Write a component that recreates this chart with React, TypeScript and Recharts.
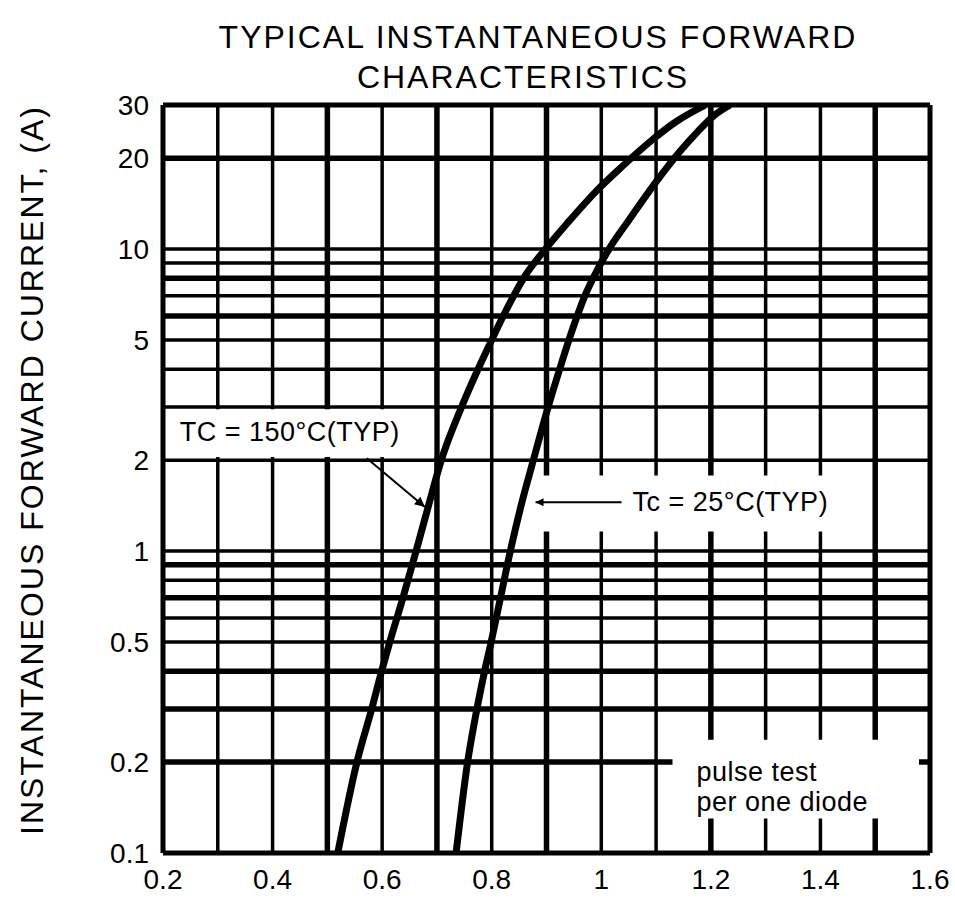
import { LineChart, Line, XAxis, YAxis, ReferenceLine, ReferenceArea } from "recharts"

// forward voltage (V) vs instantaneous current (A)
const hotVoltage = [0.519, 0.554, 0.581, 0.599, 0.614, 0.638, 0.662, 0.684, 0.708, 0.745, 0.775, 0.8, 0.821, 0.84, 0.858, 0.898, 0.94, 0.99, 1.037, 1.093, 1.135, 1.19]
const hotCurrent = [0.1, 0.2, 0.3, 0.4, 0.5, 0.7, 1, 1.4, 2, 3, 4, 5, 6, 7, 8, 10, 12.3, 15.5, 18.7, 23, 26.3, 30]

const coldVoltage = [0.735, 0.756, 0.773, 0.787, 0.799, 0.816, 0.834, 0.853, 0.876, 0.903, 0.924, 0.941, 0.956, 0.97, 0.985, 1.014, 1.048, 1.1, 1.143, 1.176, 1.207, 1.235]
const coldCurrent = [0.1, 0.2, 0.3, 0.4, 0.5, 0.7, 1, 1.4, 2, 3, 4, 5, 6, 7, 8, 10, 12.3, 16.7, 21, 24.5, 27.8, 30]

const voltTicks = [0.2, 0.4, 0.6, 0.8, 1, 1.2, 1.4, 1.6]
const currentTicks = [0.1, 0.2, 0.5, 1, 2, 5, 10, 20, 30]

const voltGrid = [0.3, 0.4, 0.5, 0.6, 0.7, 0.8, 0.9, 1, 1.1, 1.2, 1.3, 1.4, 1.5]
const currentGrid = [0.2, 0.3, 0.4, 0.5, 0.6, 0.7, 0.8, 0.9, 1, 2, 3, 4, 5, 6, 7, 8, 9, 10, 20]

const title = ["TYPICAL INSTANTANEOUS FORWARD", "CHARACTERISTICS"]
const yTitle = "INSTANTANEOUS FORWARD CURRENT, (A)"
const hotLabel = "TC = 150°C(TYP)"
const coldLabel = "Tc = 25°C(TYP)"
const noteLines = ["pulse test", "per one diode"]

const hot = hotVoltage.map((v, k) => ({ v, i: hotCurrent[k] }))
const cold = coldVoltage.map((v, k) => ({ v, i: coldCurrent[k] }))

// scanned grid has some heavier lines
const heavyVolts = [0.5, 0.7, 0.9, 1.2, 1.5]
const heavyCurrents = [20, 8, 6, 0.9, 0.7, 0.4, 0.3, 0.2]

const font = "'Liberation Sans', Arial, sans-serif"

function BoxText({ viewBox, lines, dx, dy, gap }: any) {
  const { x, y } = viewBox
  return (
    <text x={x + dx} y={y + dy} fontSize={27} fontFamily={font} fill="#000" letterSpacing={0.5}>
      {lines.map((t: string, k: number) => (
        <tspan key={k} x={x + dx} dy={k ? gap : 0}>
          {t}
        </tspan>
      ))}
    </text>
  )
}

export default function App() {
  return (
    <div style={{ position: "absolute", left: 0, top: 0, width: 955, height: 902, background: "#fff" }}>
      <svg width={955} height={902} style={{ position: "absolute", left: 0, top: 0 }}>
        <defs>
          <marker id="arrowHead" viewBox="0 0 10 10" refX="10" refY="5" markerWidth="6" markerHeight="5" orient="auto">
            <path d="M0,0 L10,5 L0,10 z" fill="#000" />
          </marker>
          <marker id="tickHead" viewBox="0 0 10 10" refX="0" refY="5" markerWidth="4" markerHeight="4" orient="auto">
            <path d="M10,0 L0,5 L10,10 z" fill="#000" />
          </marker>
        </defs>
        <g fontFamily={font} fill="#000" fontSize={32} letterSpacing={2}>
          <text x={538} y={48} textAnchor="middle">{title[0]}</text>
          <text x={523} y={88} textAnchor="middle">{title[1]}</text>
          <text transform="translate(32,470) rotate(-90)" textAnchor="middle" dominantBaseline="central">
            {yTitle}
          </text>
        </g>
      </svg>
      <div style={{ position: "absolute", left: 0, top: 0 }}>
        <LineChart width={955} height={902} margin={{ top: 105, right: 25, bottom: 0, left: 103 }}>
          <XAxis
            dataKey="v"
            type="number"
            domain={[0.2, 1.6]}
            ticks={voltTicks}
            allowDataOverflow
            axisLine={false}
            tickLine={false}
            tickSize={0}
            tickMargin={16}
            height={49}
            tick={{ fontSize: 28, fill: "#000", fontFamily: font }}
          />
          <YAxis
            dataKey="i"
            type="number"
            scale="log"
            domain={[0.1, 30]}
            ticks={currentTicks}
            allowDataOverflow
            axisLine={false}
            tickLine={false}
            tickSize={0}
            tickMargin={14}
            width={60}
            tick={{ fontSize: 28, fill: "#000", fontFamily: font }}
          />
          {voltGrid.map((v) => (
            <ReferenceLine key={"v" + v} x={v} stroke="#000" strokeWidth={heavyVolts.includes(v) ? 5.5 : 3.5} zIndex={200} />
          ))}
          {currentGrid.map((c) => (
            <ReferenceLine key={"c" + c} y={c} stroke="#000" strokeWidth={heavyCurrents.includes(c) ? 5.5 : 3.5} zIndex={200} />
          ))}
          <ReferenceArea
            x1={0.205}
            x2={0.695}
            y1={2.05}
            y2={2.95}
            fill="#fff"
            fillOpacity={1}
            stroke="none"
            zIndex={300}
            label={<BoxText lines={[hotLabel]} dx={14} dy={32} gap={0} />}
          />
          <ReferenceArea
            x1={0.88}
            x2={1.49}
            y1={1.16}
            y2={1.78}
            fill="#fff"
            fillOpacity={1}
            stroke="none"
            zIndex={300}
            label={<BoxText lines={[coldLabel]} dx={97} dy={36} gap={0} />}
          />
          <ReferenceArea
            x1={1.13}
            x2={1.58}
            y1={0.13}
            y2={0.237}
            fill="#fff"
            fillOpacity={1}
            stroke="none"
            zIndex={300}
            label={<BoxText lines={noteLines} dx={24} dy={41} gap={30} />}
          />
          <ReferenceLine
            segment={[{ x: 0.572, y: 2.03 }, { x: 0.678, y: 1.4 }]}
            stroke="#000"
            strokeWidth={2}
            markerEnd="url(#arrowHead)"
            zIndex={350}
          />
          <ReferenceLine
            segment={[{ x: 0.88, y: 1.45 }, { x: 1.037, y: 1.45 }]}
            stroke="#000"
            strokeWidth={2}
            markerStart="url(#tickHead)"
            zIndex={350}
          />
          {/* plot frame */}
          <ReferenceLine x={0.2} stroke="#000" strokeWidth={5} zIndex={360} />
          <ReferenceLine x={1.6} stroke="#000" strokeWidth={5} zIndex={360} />
          <ReferenceLine y={0.1} stroke="#000" strokeWidth={5} zIndex={360} />
          <ReferenceLine y={30} stroke="#000" strokeWidth={5} zIndex={360} />
          <Line data={hot} dataKey="i" type="monotoneX" stroke="#000" strokeWidth={7} dot={false} isAnimationActive={false} zIndex={400} />
          <Line data={cold} dataKey="i" type="monotoneX" stroke="#000" strokeWidth={7} dot={false} isAnimationActive={false} zIndex={400} />
        </LineChart>
      </div>
    </div>
  )
}
